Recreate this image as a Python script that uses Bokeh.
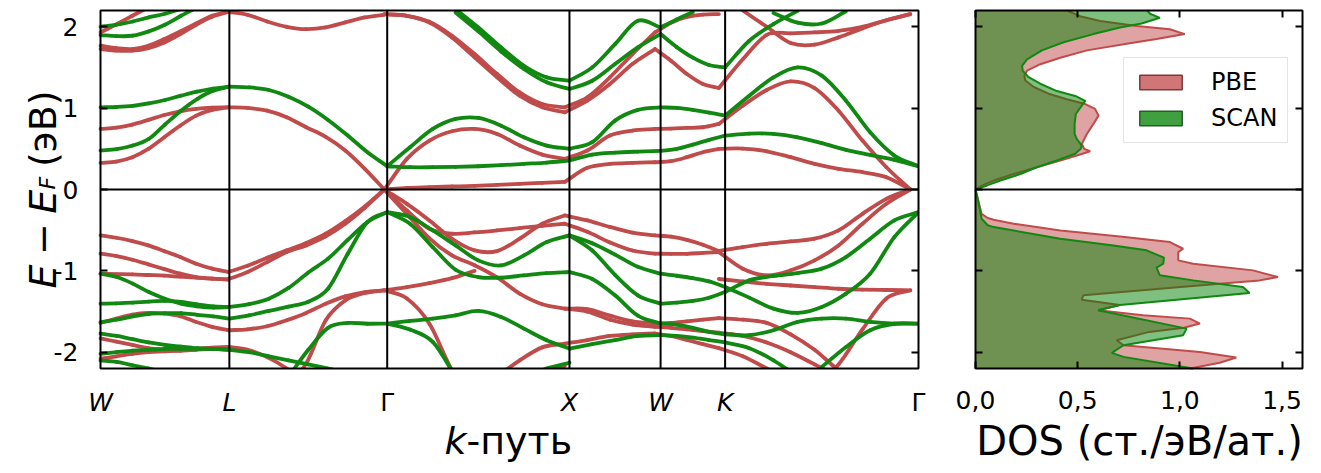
import math
from bokeh.plotting import figure
from bokeh.layouts import row
from bokeh.models import Range1d, FixedTicker, LinearAxis, Legend, LegendItem, ColumnDataSource
from bokeh.core.properties import value
from bokeh.embed import file_html
from bokeh.resources import INLINE

# ---------------- data ----------------
K_NODES = [0.0, 0.707, 1.573, 2.573, 3.073, 3.427, 4.488]
K_LABELS = ["W", "L", "Γ", "X", "W", "K", "Γ"]
PBE_K_SCALE = 0.99   # PBE k-path slightly shorter (larger lattice constant)

# band energies (eV) read at evenly spaced points along each segment (None = outside the window)
SCAN_WL = [
    [0.479, 0.495, 0.540, 0.622, 0.798, 0.969, 1.112, 1.215, 1.264],
    [1.010, 1.014, 1.027, 1.059, 1.100, 1.153, 1.202, 1.239, 1.264],
    [2.00, 2.025, 2.065, 2.115, 2.16, 2.22, None, None, None],
    [1.898, 1.885, 1.89, 1.943, 2.025, 2.135, 2.24, None, None],
    [-1.035, -1.076, -1.157, -1.260, -1.342, -1.403, -1.436, -1.452, -1.444],
    [-1.403, -1.399, -1.391, -1.378, -1.370, -1.382, -1.411, -1.436, -1.444],
    [-1.63, -1.60, -1.56, -1.53, -1.52, -1.52, -1.54, -1.56, -1.587],
    [-1.77, -1.80, -1.84, -1.88, -1.91, -1.93, -1.95, -1.96, -1.97],
    [-2.02, -2.00, -1.98, -1.97, -1.96, -1.96, -1.96, -1.96, -1.97],
    [-2.10, -2.12, -2.16, -2.20, -2.25, -2.3, None, None, None],
]
PBE_WL = [
    [0.744, 0.761, 0.798, 0.855, 0.916, 0.961, 0.990, 1.006, 1.010],
    [0.327, 0.344, 0.397, 0.499, 0.642, 0.785, 0.908, 0.978, 1.010],
    [1.93, 2.03, 2.135, 2.24, None, None, None, None, None],
    [1.767, 1.738, 1.726, 1.767, 1.849, 1.943, 2.041, 2.135, 2.184],
    [1.726, 1.706, 1.706, 1.738, 1.808, 1.91, 2.025, 2.123, 2.184],
    [-0.564, -0.593, -0.634, -0.687, -0.757, -0.830, -0.912, -0.973, -1.014],
    [-0.789, -0.818, -0.863, -0.920, -0.978, -1.035, -1.076, -1.096, -1.104],
    [-1.035, -1.039, -1.043, -1.051, -1.059, -1.072, -1.084, -1.096, -1.108],
    [-1.640, -1.587, -1.538, -1.518, -1.526, -1.558, -1.628, -1.689, -1.730],
    [-1.83, -1.87, -1.91, -1.95, -1.97, -1.98, -1.97, -1.96, -1.95],
    [-2.08, -2.05, -2.02, -2.00, -1.99, -1.98, -1.96, -1.945, -1.935],
]
SCAN_LG = [
    [1.264, 1.255, 1.223, 1.141, 1.018, 0.855, 0.663, 0.458, 0.286],
    [-1.444, -1.41, -1.342, -1.21, -1.02, -0.85, -0.62, -0.40, -0.278],
    [-1.587, -1.546, -1.493, -1.44, -1.38, -1.22, -0.79, -0.40, -0.278],
    [None, None, None, -2.3, -1.97, -1.70, -1.64, -1.65, -1.648],
    [-1.97, -2.0, -2.05, -2.1, -2.15, -2.2, -2.25, None, None],
]
PBE_LG = [
    [1.010, 1.002, 0.969, 0.888, 0.765, 0.646, 0.479, 0.254, 0.0],
    [2.184, 2.147, 2.065, 2.0, 1.971, 1.992, 2.053, 2.115, 2.147],
    [-1.014, -0.937, -0.838, -0.748, -0.658, -0.544, -0.389, -0.209, 0.0],
    [-1.104, -1.014, -0.892, -0.769, -0.687, -0.577, -0.421, -0.225, 0.0],
    [-1.730, -1.718, -1.681, -1.607, -1.517, -1.403, -1.313, -1.260, -1.239],
    [None, None, None, -2.4, -2.14, -1.607, -1.362, -1.272, -1.239],
    [-1.935, -1.97, -2.06, -2.2, -2.4, None, None, None, None],
]
SCAN_GX = [
    [0.286, 0.274, 0.274, 0.278, 0.286, 0.299, 0.315, 0.331, 0.356],
    [0.286, 0.519, 0.744, 0.867, 0.879, 0.785, 0.642, 0.540, 0.499],
    [None, None, None, 2.217, 1.992, 1.746, 1.521, 1.378, 1.337],
    [None, None, None, 2.176, 1.943, 1.697, 1.481, 1.317, 1.235],
    [-0.278, -0.339, -0.503, -0.687, -0.871, -0.933, -0.810, -0.646, -0.564],
    [-0.278, -0.421, -0.708, -0.986, -1.076, -1.084, -1.055, -1.027, -1.014],
    [-1.648, -1.616, -1.587, -1.546, -1.493, -1.566, -1.710, -1.853, -1.955],
    [-1.648, -1.722, -1.873, -2.3, None, None, None, None, None],
    [None, None, None, None, None, None, -2.3, -2.2, -2.13],
]
PBE_GX = [
    [0.0, 0.020, 0.029, 0.037, 0.045, 0.057, 0.070, 0.082, 0.094],
    [0.0, 0.376, 0.601, 0.716, 0.744, 0.683, 0.540, 0.429, 0.376],
    [2.155, 2.135, 2.053, 1.869, 1.624, 1.378, 1.153, 1.010, 0.949],
    [2.155, 2.135, 2.061, 1.890, 1.665, 1.419, 1.194, 1.051, 1.010],
    [0.0, -0.176, -0.380, -0.605, -0.748, -0.757, -0.605, -0.421, -0.319],
    [0.0, -0.258, -0.483, -0.544, -0.528, -0.503, -0.474, -0.446, -0.421],
    [0.0, -0.30, -0.60, -0.81, -0.93, -1.08, -1.28, -1.41, -1.464],
    [-1.239, -1.20, -1.15, -1.09, -1.00, None, None, None, None],
    [-1.239, -1.34, -1.65, -2.22, -2.6, None, None, None, None],
    [None, None, None, None, None, -2.3, -2.10, -1.94, -1.894],
    [None, None, None, None, None, None, -2.3, -2.22, -2.17],
]
SCAN_XW = [
    [0.356, 0.429, 0.454, 0.466, 0.474],
    [0.499, 0.581, 0.847, 0.978, 1.010],
    [1.337, 1.501, 1.787, 2.074, 1.992],
    [1.235, 1.337, 1.542, 1.746, 1.910],
    [-0.564, -0.66, -0.80, -0.95, -1.035],
    [-0.564, -0.75, -1.05, -1.30, -1.403],
    [-1.014, -1.10, -1.30, -1.55, -1.648],
    [-1.955, -1.90, -1.85, -1.80, -1.79],
]
PBE_XW = [
    [0.094, 0.266, 0.315, 0.327, 0.335],
    [0.376, 0.479, 0.663, 0.724, 0.744],
    [1.010, 1.133, 1.378, 1.665, 1.930],
    [0.949, 1.092, 1.297, 1.542, 1.726],
    [-0.319, -0.38, -0.46, -0.53, -0.564],
    [-0.421, -0.52, -0.65, -0.75, -0.789],
    [-1.464, -1.47, -1.55, -1.62, -1.648],
    [-1.464, -1.50, -1.60, -1.66, -1.689],
    [-1.894, -1.85, -1.80, -1.78, -1.77],
]
SCAN_WK = [
    [0.474, 0.499, 0.552, 0.609, 0.663],
    [1.010, 1.002, 0.978, 0.945, 0.908],
    [1.910, 1.75, 1.62, 1.53, 1.501],
    [1.992, 2.09, 2.18, None, None],
    [-1.035, -1.06, -1.09, -1.13, -1.198],
    [-1.403, -1.39, -1.37, -1.33, -1.26],
    [-1.648, -1.66, -1.70, -1.75, -1.779],
    [-1.79, -1.80, -1.82, -1.85, -1.88],
]
PBE_WK = [
    [0.335, 0.348, 0.397, 0.458, 0.499],
    [0.744, 0.748, 0.757, 0.765, 0.806],
    [1.726, 1.583, 1.419, 1.297, 1.247],
    [1.930, 2.05, 2.12, 2.15, 2.155],
    [-0.564, -0.58, -0.62, -0.68, -0.757],
    [-0.789, -0.79, -0.79, -0.78, -0.77],
    [-1.648, -1.64, -1.62, -1.60, -1.58],
    [-1.689, -1.70, -1.72, -1.74, -1.76],
    [-1.77, -1.80, -1.85, -1.90, -1.95],
]
SCAN_KG = [
    [0.908, 1.153, 1.378, 1.501, 1.399, 1.092, 0.703, 0.417, 0.286],
    [0.663, 0.687, 0.683, 0.642, 0.569, 0.487, 0.425, 0.364, 0.286],
    [1.501, 1.828, 2.033, 2.196, None, None, None, None, None],
    [None, None, 2.17, 2.05, 2.04, 2.19, None, None, None],
    [-1.26, -1.117, -1.063, -1.027, -0.973, -0.83, -0.605, -0.38, -0.278],
    [-1.198, -1.329, -1.464, -1.517, -1.444, -1.28, -1.035, -0.585, -0.278],
    [-1.779, -1.79, -1.73, -1.628, -1.587, -1.587, -1.628, -1.648, -1.648],
    [None, None, None, None, -2.18, -1.935, -1.73, -1.65, -1.648],
    [-1.88, -1.95, -2.1, -2.3, None, None, None, None, None],
]
PBE_KG = [
    [0.806, 1.030, 1.223, 1.329, 1.247, 0.969, 0.601, 0.274, 0.0],
    [0.499, 0.503, 0.470, 0.397, 0.315, 0.254, 0.213, 0.151, 0.0],
    [1.247, 1.60, 1.90, 1.92, 1.93, 1.95, 2.0, 2.08, 2.155],
    [None, 2.2, 2.0, 1.80, 1.78, 1.87, 1.98, 2.08, 2.155],
    [-0.757, -0.708, -0.667, -0.638, -0.605, -0.503, -0.299, -0.115, 0.0],
    [-0.77, -0.973, -1.055, -0.994, -0.871, -0.687, -0.421, -0.176, 0.0],
    [-1.10, -1.13, -1.16, -1.18, -1.20, -1.22, -1.23, -1.235, -1.239],
    [-1.58, -1.60, -1.64, -1.78, -1.97, -2.22, -2.4, None, None],
    [None, None, None, None, -2.4, -2.15, -1.72, -1.34, -1.239],
    [-1.76, -1.80, -1.88, -2.0, -2.15, -2.3, None, None, None],
    [-1.95, -2.05, -2.2, -2.35, None, None, None, None, None],
]
SCAN_SEGMENTS = [SCAN_WL, SCAN_LG, SCAN_GX, SCAN_XW, SCAN_WK, SCAN_KG]
PBE_SEGMENTS = [PBE_WL, PBE_LG, PBE_GX, PBE_XW, PBE_WK, PBE_KG]

# density of states (states/eV/atom)
PBE_CB_E = [0.0, 0.05, 0.11, 0.19, 0.274, 0.356, 0.417, 0.47, 0.50, 0.56, 0.683, 0.806, 0.908, 0.99, 1.05,
            1.11, 1.17, 1.26, 1.34, 1.40, 1.46, 1.54, 1.62, 1.71, 1.79, 1.85, 1.91, 1.97, 2.01, 2.07, 2.13, 2.2]
PBE_CB_DOS = [0.0, 0.033, 0.089, 0.187, 0.30, 0.415, 0.496, 0.561, 0.532, 0.52, 0.545, 0.577, 0.602, 0.585, 0.537,
              0.447, 0.366, 0.285, 0.244, 0.239, 0.252, 0.317, 0.415, 0.545, 0.74, 0.886, 1.024, 0.951, 0.789, 0.61, 0.512, 0.447]
SCAN_CB_E = [0.0, 0.05, 0.11, 0.19, 0.274, 0.356, 0.44, 0.50, 0.54, 0.62, 0.683, 0.806, 0.928, 1.03, 1.09,
             1.15, 1.21, 1.30, 1.38, 1.46, 1.52, 1.60, 1.71, 1.81, 1.91, 1.99, 2.04, 2.11, 2.16, 2.2]
SCAN_CB_DOS = [0.0, 0.057, 0.122, 0.22, 0.30, 0.398, 0.488, 0.515, 0.52, 0.496, 0.485, 0.485, 0.491, 0.52, 0.537,
               0.488, 0.398, 0.317, 0.26, 0.231, 0.228, 0.252, 0.325, 0.431, 0.577, 0.707, 0.813, 0.902, 0.854, 0.84]
PBE_VB_E = [0.0, -0.1, -0.30, -0.35, -0.372, -0.421, -0.503, -0.577, -0.646, -0.728, -0.769, -0.871, -0.912, -0.994,
            -1.076, -1.117, -1.166, -1.30, -1.354, -1.42, -1.485, -1.546, -1.587, -1.648, -1.70, -1.75, -1.853,
            -1.914, -1.996, -2.065, -2.13, -2.2]
PBE_VB_DOS = [0.0, 0.01, 0.03, 0.06, 0.089, 0.187, 0.415, 0.707, 0.951, 1.016, 0.992, 0.992, 1.065, 1.358,
              1.48, 1.39, 1.163, 0.528, 0.52, 0.707, 0.60, 0.82, 1.049, 1.098, 1.02, 0.85, 0.691,
              0.724, 1.098, 1.276, 1.195, 1.05]
SCAN_VB_E = [0.0, -0.1, -0.36, -0.44, -0.462, -0.605, -0.687, -0.748, -0.838, -0.912, -0.961, -1.055, -1.117,
             -1.198, -1.272, -1.42, -1.485, -1.71, -1.79, -1.914, -2.008, -2.057, -2.2]
SCAN_VB_DOS = [0.0, 0.01, 0.03, 0.06, 0.089, 0.415, 0.675, 0.837, 0.922, 0.919, 0.886, 0.902, 1.065,
               1.309, 1.341, 0.707, 0.60, 1.033, 1.016, 0.724, 0.667, 0.724, 1.065]

DOS_TICKS = [0.0, 0.5, 1.0, 1.5]
DOS_TICK_LABELS = ["0,0", "0,5", "1,0", "1,5"]
E_TICKS = [-2, -1, 0, 1, 2]
E_TICK_LABELS = ["-2", "-1", "0", "1", "2"]

# ---------------- style / layout (pixels) ----------------
PBE_LINE = "#bf4b4b"
SCAN_LINE = "#118811"
PBE_FILL = "#c04848"
SCAN_FILL = "#008000"
FONT = "DejaVu Sans"
TICK_FS = "25px"
TITLE_FS = "38px"
E_MIN, E_MAX = -2.2, 2.2
DOS_MAX = 1.6

H = 470                      # canvas height
BOX_TOP, BOX_BOT = 10, 368   # panel box, page pixels
P1_W, P1_BOX_L, P1_BOX_R = 940, 100, 918
P2_X0, P2_W, P2_BOX_L, P2_BOX_R = 940, 372, 975, 1302

e_px = (BOX_BOT - BOX_TOP) / (E_MAX - E_MIN)
k_px = (P1_BOX_R - P1_BOX_L) / K_NODES[-1]
d_px = (P2_BOX_R - P2_BOX_L) / DOS_MAX
Y_RANGE = (E_MIN - (H - BOX_BOT) / e_px, E_MAX + BOX_TOP / e_px)


def e_at(py):
    return E_MAX - (py - BOX_TOP) / e_px


def k_at(px):
    return (px - P1_BOX_L) / k_px


def segment_runs(segments, scale):
    xs, ys = [], []
    for i, curves in enumerate(segments):
        k0, k1 = K_NODES[i], K_NODES[i + 1]
        for c in curves:
            n = len(c)
            rx, ry = [], []
            for j, e in enumerate(c):
                k = (k0 + (k1 - k0) * j / (n - 1)) * scale
                if e is None:
                    if len(rx) > 1:
                        xs.append(rx); ys.append(ry)
                    rx, ry = [], []
                else:
                    rx.append(k); ry.append(e)
            if len(rx) > 1:
                xs.append(rx); ys.append(ry)
    return xs, ys


def smooth_source(segments, scale):
    """Cubic (Catmull-Rom) pieces passing through every read point."""
    d = {key: [] for key in ("x0", "y0", "x1", "y1", "cx0", "cy0", "cx1", "cy1")}
    for rx, ry in zip(*segment_runs(segments, scale)):
        n = len(rx)
        tx, ty = [], []
        for i in range(n):
            a, b = max(i - 1, 0), min(i + 1, n - 1)
            f = 1.0 / (b - a)
            tx.append((rx[b] - rx[a]) * f); ty.append((ry[b] - ry[a]) * f)
        for i in range(n - 1):
            d["x0"].append(rx[i]); d["y0"].append(ry[i])
            d["x1"].append(rx[i + 1]); d["y1"].append(ry[i + 1])
            d["cx0"].append(rx[i] + tx[i] / 3); d["cy0"].append(ry[i] + ty[i] / 3)
            d["cx1"].append(rx[i + 1] - tx[i + 1] / 3); d["cy1"].append(ry[i + 1] - ty[i + 1] / 3)
    return ColumnDataSource(d)


def make_axis(ticks, loc, labels=None):
    ax = LinearAxis(fixed_location=loc)
    ax.ticker = FixedTicker(ticks=ticks)
    ax.major_tick_in = 7
    ax.major_tick_out = 0
    ax.major_tick_line_width = 2
    ax.major_tick_line_color = "black"
    ax.minor_tick_line_color = None
    ax.axis_line_color = None
    ax.major_label_text_font = FONT
    if labels is not None:
        ax.major_label_text_font_size = TICK_FS
        ax.major_label_text_color = "black"
        ax.major_label_overrides = dict(zip(ticks, labels))
        ax.major_label_standoff = 22
    else:
        ax.major_label_text_font_size = "1px"
        ax.major_label_text_color = None
        ax.major_label_standoff = 0
    return ax


def txt(fig, x, y, s, size, style="normal", align="center", baseline="middle", angle=0.0):
    fig.text(x=[x], y=[y], text=[s], angle=angle, text_font=value(FONT), text_font_size=value(size),
             text_font_style=value(style), text_align=value(align), text_baseline=value(baseline),
             text_color=value("black"))


# ---------------- band structure panel ----------------
p1 = figure(width=P1_W, height=H, output_backend="svg", toolbar_location=None, title=None,
            x_range=Range1d(k_at(0), k_at(P1_W)), y_range=Range1d(*Y_RANGE),
            x_axis_location=None, y_axis_location=None, min_border=0)
p1.grid.visible = False
p1.outline_line_color = None

bez = dict(x0="x0", y0="y0", x1="x1", y1="y1", cx0="cx0", cy0="cy0", cx1="cx1", cy1="cy1")
p1.bezier(source=smooth_source(PBE_SEGMENTS, PBE_K_SCALE), line_color=PBE_LINE, line_width=3.8,
          line_cap="round", **bez)
p1.bezier(source=smooth_source(SCAN_SEGMENTS, 1.0), line_color=SCAN_LINE, line_width=3.8,
          line_cap="round", **bez)

# white masks outside the panel box
big = 50.0
p1.quad(left=[-big, -big, K_NODES[-1]], right=[big, big, big],
        bottom=[-big, E_MAX, -big], top=[E_MIN, big, big],
        fill_color="white", line_color=None)
# high-symmetry lines, Fermi level, box
p1.segment(x0=K_NODES[1:-1], x1=K_NODES[1:-1], y0=[E_MIN] * 5, y1=[E_MAX] * 5, line_color="black", line_width=2)
p1.segment(x0=[0.0], x1=[K_NODES[-1]], y0=[0.0], y1=[0.0], line_color="black", line_width=2)
p1.quad(left=[0.0], right=[K_NODES[-1]], bottom=[E_MIN], top=[E_MAX], fill_color=None,
        line_color="black", line_width=2)
p1.add_layout(make_axis(E_TICKS, 0.0, E_TICK_LABELS), "left")
p1.add_layout(make_axis(E_TICKS, K_NODES[-1]), "right")

# k-point labels
for k, lab in zip(K_NODES, K_LABELS):
    txt(p1, k, e_at(402), lab, TICK_FS, style="normal" if lab == "Γ" else "italic")
# x title
txt(p1, k_at(466), e_at(440), "k", TITLE_FS, style="italic", align="right")
txt(p1, k_at(466), e_at(440), "-путь", TITLE_FS, align="left")
# y title  E − E_F (эВ)
ang = math.pi / 2
txt(p1, k_at(42), e_at(288), "E\u2005\u2212\u2005E", TITLE_FS, style="italic", align="left",
    baseline="alphabetic", angle=ang)
txt(p1, k_at(47), e_at(189), "F", "22px", style="italic", align="left", baseline="alphabetic", angle=ang)
txt(p1, k_at(42), e_at(176), "\u2005(эВ)", TITLE_FS, align="left", baseline="alphabetic", angle=ang)

# ---------------- DOS panel ----------------
p2 = figure(width=P2_W, height=H, output_backend="svg", toolbar_location=None, title=None,
            x_range=Range1d((P2_X0 - P2_BOX_L) / d_px, (P2_X0 + P2_W - P2_BOX_L) / d_px),
            y_range=Range1d(*Y_RANGE), x_axis_location=None, y_axis_location=None, min_border=0)
p2.grid.visible = False
p2.outline_line_color = None

for e_arr, d_arr in ((PBE_CB_E, PBE_CB_DOS), (PBE_VB_E, PBE_VB_DOS)):
    p2.harea(x1=[0.0] * len(e_arr), x2=d_arr, y=e_arr, fill_color=PBE_FILL, fill_alpha=0.5)
    p2.line(d_arr, e_arr, line_color=PBE_LINE, line_width=2)
for e_arr, d_arr in ((SCAN_CB_E, SCAN_CB_DOS), (SCAN_VB_E, SCAN_VB_DOS)):
    p2.harea(x1=[0.0] * len(e_arr), x2=d_arr, y=e_arr, fill_color=SCAN_FILL, fill_alpha=0.5)
    p2.line(d_arr, e_arr, line_color=SCAN_LINE, line_width=2)
p2.segment(x0=[0.0], x1=[DOS_MAX], y0=[0.0], y1=[0.0], line_color="black", line_width=2)
p2.quad(left=[0.0], right=[DOS_MAX], bottom=[E_MIN], top=[E_MAX], fill_color=None,
        line_color="black", line_width=2)
p2.add_layout(make_axis(DOS_TICKS, E_MIN, DOS_TICK_LABELS), "below")
p2.add_layout(make_axis(DOS_TICKS, E_MAX), "above")
p2.add_layout(make_axis(E_TICKS, 0.0), "left")
p2.add_layout(make_axis(E_TICKS, DOS_MAX), "right")

# legend proxies (outside the visible ranges)
leg_pbe = p2.quad(left=[10], right=[11], top=[10], bottom=[9], fill_color=PBE_FILL, fill_alpha=0.75,
                  line_color="#7a3a3a", line_width=1.5)
leg_scan = p2.quad(left=[10], right=[11], top=[10], bottom=[9], fill_color=SCAN_FILL, fill_alpha=0.75,
                   line_color="#2a5a2a", line_width=1.5)
legend = Legend(items=[LegendItem(label="PBE", renderers=[leg_pbe]),
                       LegendItem(label="SCAN", renderers=[leg_scan])],
                location=(1123 - P2_X0, H - 143), glyph_width=53, glyph_height=18, label_height=28,
                label_text_font=FONT, label_text_font_size="24px", label_text_color="black", label_standoff=24,
                spacing=8, padding=10, margin=0, border_line_color="#cccccc", border_line_width=1.5,
                background_fill_alpha=0.8)
p2.add_layout(legend)

txt(p2, (1139 - P2_BOX_L) / d_px, e_at(440), "DOS (ст./эВ/ат.)", "40px")

layout = row(p1, p2)
open("out.html", "w").write(file_html(layout, INLINE))
